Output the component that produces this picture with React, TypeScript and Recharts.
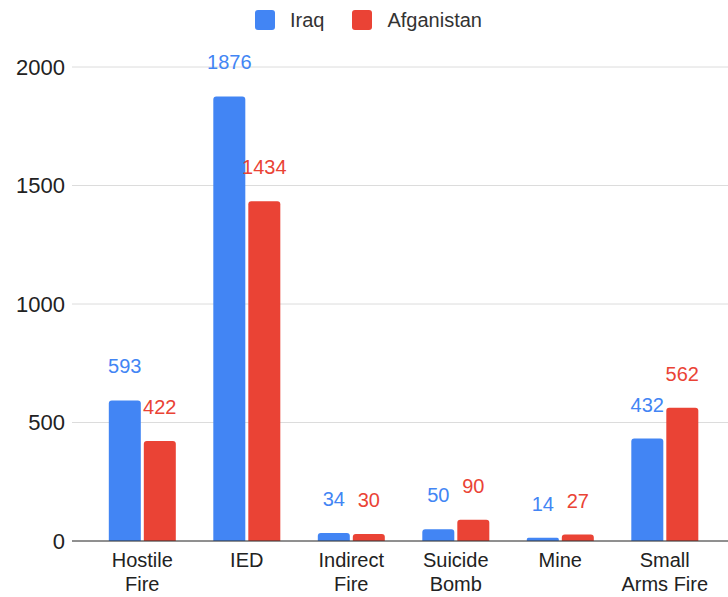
import { BarChart, Bar, XAxis, YAxis, CartesianGrid, LabelList } from "recharts";

const categories = ["Hostile\nFire", "IED", "Indirect\nFire", "Suicide\nBomb", "Mine", "Small\nArms Fire"];
const iraq = [593, 1876, 34, 50, 14, 432];
const afganistan = [422, 1434, 30, 90, 27, 562];
const yTicks = [0, 500, 1000, 1500, 2000];

const BLUE = "#4285F4";
const RED = "#EA4335";
const FONT = "'Liberation Sans', Arial, sans-serif";

const data = categories.map((name, i) => ({
  name,
  Iraq: iraq[i],
  Afganistan: afganistan[i],
}));

const series = [
  { key: "Iraq", color: BLUE },
  { key: "Afganistan", color: RED },
];

const CategoryTick = (props: any) => {
  const { x, y, payload } = props;
  const lines = String(payload.value).split("\n");
  return (
    <g transform={`translate(${x},${y})`}>
      {lines.map((line, i) => (
        <text
          key={i}
          x={0}
          y={18 + i * 24}
          textAnchor="middle"
          fill="#222"
          fontSize={20}
          fontFamily={FONT}
        >
          {line}
        </text>
      ))}
    </g>
  );
};

export default function App() {
  return (
    <div style={{ position: "absolute", left: 0, top: 0, width: 728, height: 597, background: "#fff" }}>
      <div
        style={{
          position: "absolute",
          top: 10,
          left: 255,
          display: "flex",
          alignItems: "center",
          fontFamily: FONT,
          fontSize: 20,
          color: "#333",
          lineHeight: "20px",
        }}
      >
        {series.map((s) => (
          <div key={s.key} style={{ display: "flex", alignItems: "center", marginRight: 28 }}>
            <span
              style={{
                display: "inline-block",
                width: 20,
                height: 20,
                borderRadius: 3,
                background: s.color,
                marginRight: 15,
              }}
            />
            <span>{s.key}</span>
          </div>
        ))}
      </div>
      <BarChart
        width={728}
        height={597}
        data={data}
        margin={{ top: 67, right: 0, bottom: 0, left: 0 }}
        barCategoryGap="18%"
        barGap={3}
      >
        <CartesianGrid vertical={false} stroke="#dcdcdc" />
        <XAxis
          dataKey="name"
          tick={<CategoryTick />}
          tickLine={false}
          axisLine={{ stroke: "#333" }}
          interval={0}
          height={56}
          padding={{ left: 18, right: 11 }}
        />
        <YAxis
          width={72}
          domain={[0, 2000]}
          ticks={yTicks}
          tickLine={false}
          axisLine={false}
          tickMargin={1}
          tick={{ fill: "#222", fontSize: 22, fontFamily: FONT }}
        />
        {series.map((s) => (
          <Bar key={s.key} dataKey={s.key} fill={s.color} radius={[3, 3, 0, 0]} isAnimationActive={false}>
            <LabelList
              dataKey={s.key}
              position="top"
              offset={27}
              fill={s.color}
              fontSize={20}
              fontFamily={FONT}
            />
          </Bar>
        ))}
      </BarChart>
    </div>
  );
}
